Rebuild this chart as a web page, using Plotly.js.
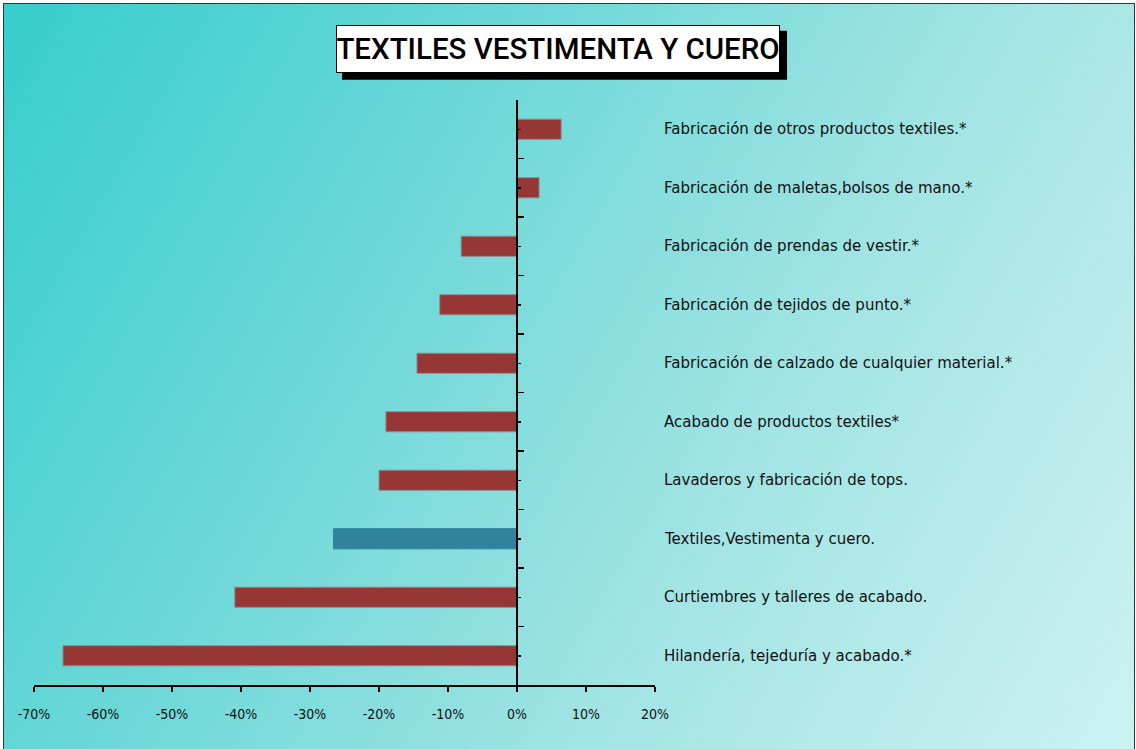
<!DOCTYPE html>
<html>
<head>
<meta charset="utf-8">
<script src="https://cdn.plot.ly/plotly-3.0.1.min.js"></script>
<style>
  html, body { margin: 0; padding: 0; width: 1136px; height: 749px; overflow: hidden; background: #ffffff; }
  #bg { position: absolute; left: 3px; top: 3px; width: 1130px; height: 760px;
        border: 1.5px solid #1f3d3d;
        background: linear-gradient(120deg, #36cdcd 0%, #6fd8d8 35%, #a3e4e4 65%, #cdf2f2 100%); }
  #chart { position: absolute; left: 0; top: 0; width: 1136px; height: 749px; }
</style>
</head>
<body>
<div id="bg"></div>
<div id="chart"></div>
<script>
// Categories listed top to bottom
const categories = [
  "Fabricación de otros productos textiles.*",
  "Fabricación de maletas,bolsos de mano.*",
  "Fabricación de prendas de vestir.*",
  "Fabricación de tejidos de punto.*",
  "Fabricación de calzado de cualquier material.*",
  "Acabado de productos textiles*",
  "Lavaderos y fabricación de tops.",
  "Textiles,Vestimenta y cuero.",
  "Curtiembres y talleres de acabado.",
  "Hilandería, tejeduría y acabado.*"
];
// Variation in percent
const values = [6.4, 3.2, -8.1, -11.2, -14.5, -19.0, -20.0, -26.6, -40.9, -65.8];
const isTotal = [false, false, false, false, false, false, false, true, false, false];
const xTickVals = [-70, -60, -50, -40, -30, -20, -10, 0, 10, 20];
const xTickText = ["-70%", "-60%", "-50%", "-40%", "-30%", "-20%", "-10%", "0%", "10%", "20%"];
const titleText = "TEXTILES VESTIMENTA Y CUERO";

const redColor = "#963635";
const tealColor = "#2f839b";
const barColors = isTotal.map(t => t ? tealColor : redColor);
const lineColors = isTotal.map(t => t ? tealColor : "#8f8f8f");

const xRange = [-70, 20];
const zeroPos = (0 - xRange[0]) / (xRange[1] - xRange[0]);

const traces = [
  {
    type: "bar", orientation: "h",
    x: values, y: categories,
    xaxis: "x", yaxis: "y",
    marker: { color: barColors, line: { color: lineColors, width: 1 } },
    hoverinfo: "x+y"
  },
  {
    type: "bar", orientation: "h",
    x: values, y: categories,
    xaxis: "x", yaxis: "y2",
    marker: { color: "rgba(0,0,0,0)" },
    hoverinfo: "skip", showlegend: false
  }
];

const labelFont = { family: "DejaVu Sans, Verdana, sans-serif", size: 15, color: "#111111" };
const titleFont = { family: "Roboto, Lato, sans-serif", size: 29.5, color: "#000000", weight: 500 };

const annotations = categories.map(c => ({
  xref: "paper", yref: "y", x: 1.0115, y: c,
  xanchor: "left", yanchor: "middle",
  text: c, showarrow: false, font: labelFont
}));

// Title box
annotations.push({
  xref: "paper", yref: "paper", x: 0.8438, y: 1.087,
  xanchor: "center", yanchor: "middle",
  text: titleText, showarrow: false, font: titleFont,
  bgcolor: "#ffffff", bordercolor: "#000000", borderwidth: 1, borderpad: 0,
  width: 442, height: 46
});

const layout = {
  width: 1136, height: 749,
  margin: { l: 34, r: 481, t: 100, b: 64 },
  paper_bgcolor: "rgba(0,0,0,0)",
  plot_bgcolor: "rgba(0,0,0,0)",
  showlegend: false,
  bargap: 0.655,
  xaxis: {
    range: xRange, fixedrange: true,
    tickvals: xTickVals, ticktext: xTickText,
    showgrid: false, zeroline: false,
    showline: true, linecolor: "#000000", linewidth: 2,
    ticks: "outside", ticklen: 5, tickwidth: 1.5, tickcolor: "#000000",
    ticklabelstandoff: 10,
    tickfont: { family: "DejaVu Sans Condensed, DejaVu Sans, sans-serif", size: 14, color: "#111111" }
  },
  yaxis: {
    type: "category", categoryorder: "array", categoryarray: categories,
    range: [categories.length - 0.5, -0.5], fixedrange: true,
    anchor: "free", position: zeroPos,
    showgrid: false, zeroline: false,
    showline: true, linecolor: "#000000", linewidth: 2,
    ticks: "inside", ticklen: 6, tickwidth: 1.5, tickcolor: "#000000",
    tickson: "boundaries",
    showticklabels: false
  },
  yaxis2: {
    type: "category", categoryorder: "array", categoryarray: categories,
    range: [categories.length - 0.5, -0.5], fixedrange: true,
    overlaying: "y", anchor: "free", position: zeroPos, side: "left",
    showgrid: false, zeroline: false, showline: false,
    ticks: "inside", ticklen: 3, tickwidth: 1.5, tickcolor: "#000000",
    showticklabels: false
  },
  shapes: [
    // title box drop shadow
    { type: "rect", xref: "paper", yref: "paper", layer: "above",
      x0: 0.4960, x1: 1.2126, y0: 1.0346, y1: 1.1184,
      fillcolor: "#000000", line: { width: 0 } }
  ],
  annotations: annotations
};

Plotly.newPlot("chart", traces, layout, { displayModeBar: false, staticPlot: true });
</script>
</body>
</html>
